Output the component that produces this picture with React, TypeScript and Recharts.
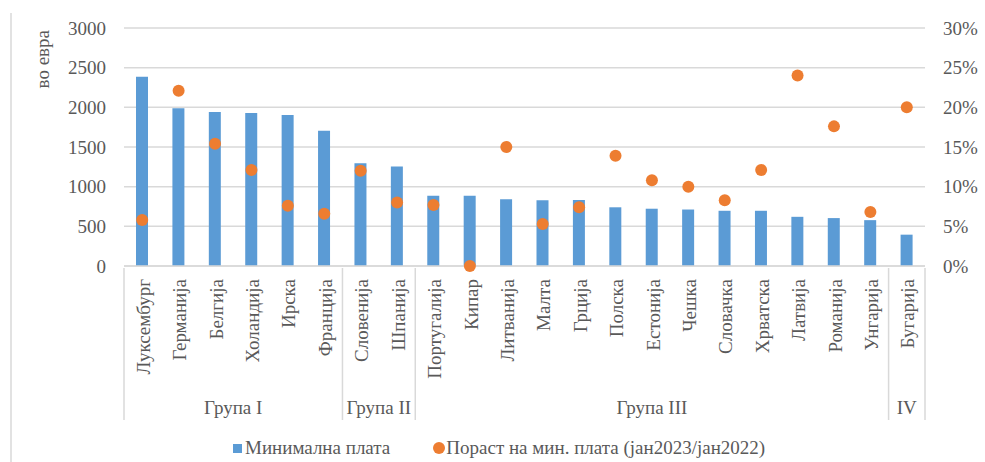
import { ComposedChart, Bar, Line, XAxis, YAxis, CartesianGrid } from 'recharts';

// Земји (категории)
const countries = [
  'Луксембург', 'Германија', 'Белгија', 'Холандија', 'Ирска', 'Франција',
  'Словенија', 'Шпанија',
  'Португалија', 'Кипар', 'Литванија', 'Малта', 'Грција', 'Полска', 'Естонија',
  'Чешка', 'Словачка', 'Хрватска', 'Латвија', 'Романија', 'Унгарија',
  'Бугарија',
];

// Минимална плата, во евра
const minWage = [
  2387, 1987, 1941, 1929, 1904, 1705,
  1295, 1255,
  884, 885, 840, 830, 832, 740, 722, 712, 696, 696, 620, 604, 578,
  395,
];

// Пораст на мин. плата (јан2023/јан2022), во %
const growth = [
  5.8, 22.1, 15.4, 12.1, 7.6, 6.6,
  12.0, 8.0,
  7.7, 0.0, 15.0, 5.3, 7.4, 13.9, 10.8, 10.0, 8.3, 12.1, 24.0, 17.6, 6.8,
  20.0,
];

const groupLabels = ['Група I', 'Група II', 'Група III', 'IV'];
const groupSizes = [6, 2, 13, 1];

const leftTicks = [0, 500, 1000, 1500, 2000, 2500, 3000];
const rightTicks = [0, 5, 10, 15, 20, 25, 30];

const data = countries.map((name, i) => ({ name, wage: minWage[i], growth: growth[i] }));

const BLUE = '#5B9BD5';
const ORANGE = '#ED7D31';
const TEXT = '#595959';
const GRID = '#d9d9d9';
const FONT = 'Liberation Serif';
const FS = 19;

const W = 985;
const H = 462;
const LEFT_W = 124;
const RIGHT_W = 60;
const STEP = (W - LEFT_W - RIGHT_W) / countries.length;
const AXIS_H = 152;

// where each group starts (category index)
const groupStarts = groupSizes.map((_, g) => groupSizes.slice(0, g).reduce((a, b) => a + b, 0));

function CategoryTick(props: any) {
  const { x, y, payload, index } = props;
  const g = groupStarts.indexOf(index);
  const isLast = index === countries.length - 1;
  return (
    <g>
      <text
        transform={`translate(${x + 1},${y + 11}) rotate(-90)`}
        textAnchor="end"
        dy="0.35em"
        fill={TEXT}
        fontSize={FS}
        fontFamily={FONT}
      >
        {payload.value}
      </text>
      {g >= 0 && (
        <>
          <line x1={x - STEP / 2} x2={x - STEP / 2} y1={y} y2={y + AXIS_H} stroke={GRID} strokeWidth={1.5} />
          <text
            x={x - STEP / 2 + (groupSizes[g] * STEP) / 2}
            y={y + 146}
            textAnchor="middle"
            fill={TEXT}
            fontSize={FS}
            fontFamily={FONT}
          >
            {groupLabels[g]}
          </text>
        </>
      )}
      {isLast && (
        <line x1={x + STEP / 2} x2={x + STEP / 2} y1={y} y2={y + AXIS_H} stroke={GRID} strokeWidth={1.5} />
      )}
    </g>
  );
}

function ChartLegend() {
  const item = { display: 'flex', alignItems: 'center', color: TEXT, fontFamily: FONT, fontSize: FS, whiteSpace: 'nowrap' } as const;
  return (
    <div style={{ position: 'absolute', left: 233, top: 437, display: 'flex', gap: 43 }}>
      <div style={item}>
        <span style={{ width: 9, height: 9, background: BLUE, marginRight: 3, display: 'inline-block' }} />
        Минимална плата
      </div>
      <div style={item}>
        <span style={{ width: 12, height: 12, borderRadius: '50%', background: ORANGE, marginRight: 1, display: 'inline-block' }} />
        Пораст на мин. плата (јан2023/јан2022)
      </div>
    </div>
  );
}

export default function App() {
  return (
    <div style={{ position: 'absolute', left: 0, top: 0, width: W, height: H, background: '#fff' }}>
      <svg width={W} height={H} style={{ position: 'absolute', left: 0, top: 0 }}>
        <line x1={11} x2={11} y1={13} y2={H} stroke={GRID} strokeWidth={1.5} />
      </svg>
      <ComposedChart
        width={W}
        height={H}
        data={data}
        margin={{ top: 28, right: 0, bottom: 0, left: 0 }}
        style={{ position: 'absolute', left: 0, top: 0 }}
      >
        <CartesianGrid vertical={false} stroke={GRID} strokeWidth={1.5} yAxisId="left" />
        <XAxis
          dataKey="name"
          interval={0}
          height={H - 266}
          tickLine={false}
          tickSize={0}
          axisLine={{ stroke: GRID, strokeWidth: 1.5 }}
          tick={(p: any) => <CategoryTick {...p} />}
        />
        <YAxis
          yAxisId="left"
          domain={[0, 3000]}
          ticks={leftTicks}
          width={LEFT_W}
          axisLine={false}
          tickLine={false}
          tickSize={0}
          tickMargin={18}
          tick={{ fill: TEXT, fontSize: FS, fontFamily: FONT }}
          label={({ viewBox }: any) => (
            <text
              transform={`translate(${viewBox.x + 42},${viewBox.y + 2}) rotate(-90)`}
              textAnchor="end"
              dy="0.35em"
              fill={TEXT}
              fontSize={FS}
              fontFamily={FONT}
            >
              во евра
            </text>
          )}
        />
        <YAxis
          yAxisId="right"
          orientation="right"
          domain={[0, 30]}
          ticks={rightTicks}
          width={RIGHT_W}
          axisLine={false}
          tickLine={false}
          tickSize={0}
          tickMargin={18}
          tickFormatter={(v: number) => `${v}%`}
          tick={{ fill: TEXT, fontSize: FS, fontFamily: FONT, textAnchor: 'start' }}
        />
        <Bar yAxisId="left" dataKey="wage" fill={BLUE} barSize={12} isAnimationActive={false} />
        <Line
          yAxisId="right"
          dataKey="growth"
          stroke="none"
          dot={{ r: 6, fill: ORANGE, stroke: 'none' }}
          activeDot={false}
          isAnimationActive={false}
        />
      </ComposedChart>
      <ChartLegend />
    </div>
  );
}
